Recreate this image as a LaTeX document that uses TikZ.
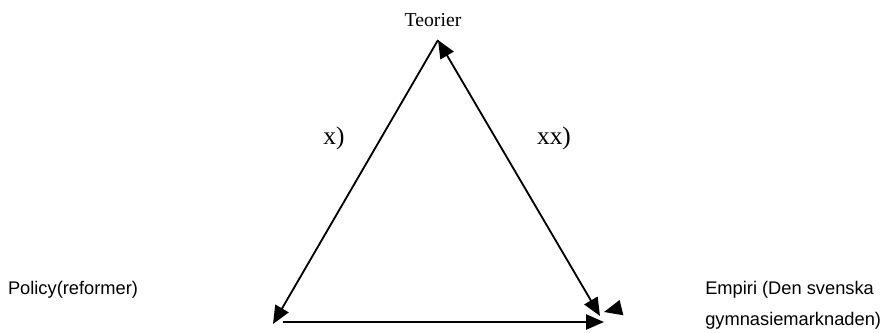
\documentclass[tikz,border=0pt]{standalone}
\usepackage{fontspec}
\setmainfont{Liberation Serif}
\setsansfont{Liberation Sans}
\usepackage{tikz}
\usetikzlibrary{arrows.meta, positioning, calc}

\tikzset{
  tip/.style={-{Triangle[length=4.5mm, width=3.8mm]}, line width=1.3pt},
  biedge/.style={{Triangle[length=4.5mm, width=3.8mm]}-{Triangle[length=4.5mm, width=3.8mm]}, line width=1.3pt},
  sidelabel/.style={font=\fontsize{18}{20}\selectfont, inner sep=0pt},
  cornerlabel/.style={font=\sffamily\fontsize{13}{22}\selectfont, inner sep=0pt}
}

\begin{document}
\begin{tikzpicture}
  \useasboundingbox (0,0) rectangle (22.15,8.3);
  % corners of the triangle
  \coordinate (apex) at (10.95,7.3);
  \coordinate (bl) at (6.825,0.2);
  \coordinate (blstart) at (7.075,0.25);
  \coordinate (br) at (15.1,0.25);
  \coordinate (brside) at (15.0,0.4);
  \coordinate (stub) at (15.5,0.6);
  \coordinate (stubend) at (15.1,0.5);
  % labels
  \node[font=\fontsize{14}{16}\selectfont, inner sep=0pt] (teo) at (10.825,7.8) {Teorier};
  \node[sidelabel] (x1) at (8.35,4.85) {x)};
  \node[sidelabel] (x2) at (13.85,4.85) {xx)};
  \node[cornerlabel] (pol) at (1.825,1.05) {Policy(reformer)};
  \node[cornerlabel, anchor=west, align=left] (emp) at (17.625,0.66) {Empiri (Den svenska\\gymnasiemarknaden)};
  % edges
  \draw[tip] (apex) -- (bl);
  \draw[biedge] (apex) -- (brside);
  \draw[tip] (blstart) -- (br);
  \draw[tip] (stub) -- (stubend);
\end{tikzpicture}
\end{document}
